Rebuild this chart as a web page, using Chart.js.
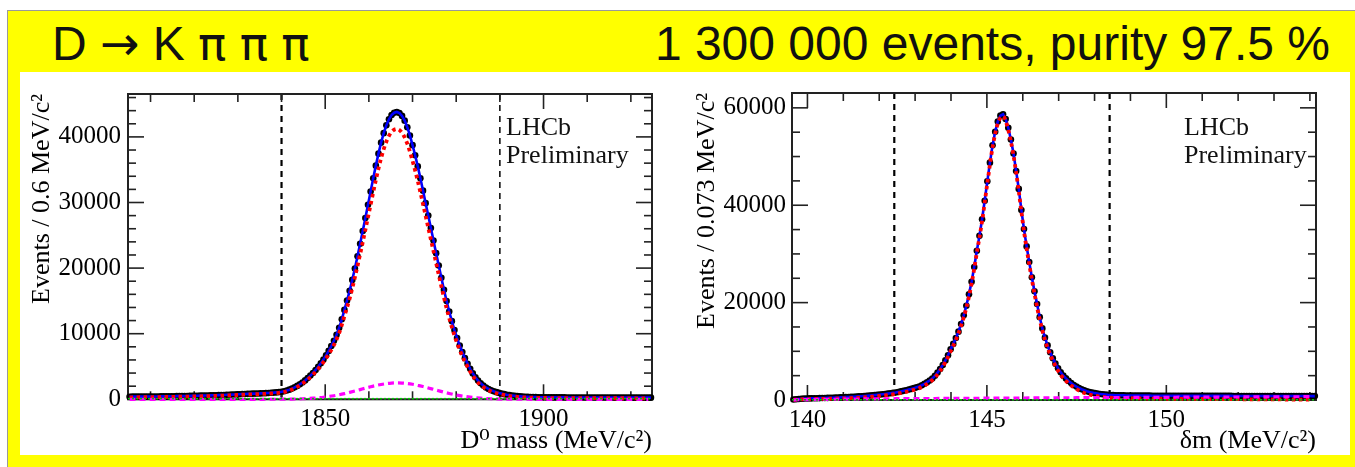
<!DOCTYPE html>
<html><head><meta charset="utf-8">
<script src="https://cdn.jsdelivr.net/npm/chart.js@4.4.1/dist/chart.umd.min.js"></script>
<style>
html,body{margin:0;padding:0;background:#fff;}
body{width:1355px;height:467px;position:relative;overflow:hidden;}
#band{position:absolute;left:7px;top:10px;width:1348px;height:457px;background:#ffff00;border-left:1px solid #9a9a9a;border-top:1px solid #9a9a9a;box-sizing:border-box;}
#panel{position:absolute;left:20px;top:72px;width:1330px;height:383px;background:#fff;}
.ttl{position:absolute;top:20px;font-family:'Liberation Sans',Arial,sans-serif;font-size:48px;line-height:48px;color:#111;white-space:pre;}
.sym{font-family:'DejaVu Sans',sans-serif;font-size:47px;}
#t1{left:52px;}
#t2{right:25px;}
.lhcb{position:absolute;top:113px;font-family:'Liberation Serif','Times New Roman',serif;font-size:26px;line-height:28px;color:#111;}
canvas{position:absolute;}
</style></head>
<body>
<div id="band"></div>
<div id="panel"></div>
<div class="ttl" id="t1">D <span class="sym">→</span> K <span class="sym">π</span> <span class="sym">π</span> <span class="sym">π</span></div>
<div class="ttl" id="t2">1 300 000 events, purity 97.5 %</div>
<canvas id="cL" width="650" height="383" style="left:20px;top:72px;width:650px;height:383px"></canvas>
<canvas id="cR" width="670" height="383" style="left:680px;top:72px;width:670px;height:383px"></canvas>
<div class="lhcb" style="left:506px">LHCb<br>Preliminary</div>
<div class="lhcb" style="left:1184px">LHCb<br>Preliminary</div>
<script>
// ================= Left panel: D0 mass =================
const massBinStartL = 1805.2;   // first bin centre, MeV/c2
const massBinWidthL = 0.6;      // bin width, MeV/c2
const eventsL = [
 400,402,405,408,410,412,415,418,420,425,
 430,435,440,445,450,457,465,472,480,487,
 495,502,510,517,525,535,545,555,565,575,
 585,597,610,622,635,650,665,682,700,720,
 740,760,780,798,815,830,845,858,870,885,
 900,920,940,963,990,1020,1055,1095,1150,1235,
 1340,1470,1630,1820,2040,2290,2570,2880,3230,3610,
 4020,4470,4960,5490,6070,6700,7380,8120,8930,9840,
 10900,12200,13630,15060,16530,18200,19950,21800,23710,25660,
 27640,29660,31680,33680,35620,37450,39120,40570,41760,42680,
 43320,43690,43800,43640,43200,42480,41480,40220,38740,37200,
 35500,33700,31810,29900,28000,26100,24200,22280,20400,18520,
 16690,14990,13380,11910,10550,9330,8200,7200,6270,5430,
 4650,3950,3350,2850,2440,2100,1810,1580,1390,1230,
 1090,975,875,785,705,635,575,522,477,440,
 410,388,370,354,340,330,320,310,300,297,
 295,293,292,290,289,287,286,284,283,281,
 280,278,277,275,274,272,271,269,268,267,
 266,265,264,263,262,261,260,259,258,257,
 256,255,254,254,253,252,252,251,251,250
];
const curveStartL = 1805.2;     // fit-component grid start
const curveStepL = 1.2;         // fit-component grid step
const signalL = [
 300,305,310,315,320,330,340,350,365,380,
 395,410,425,445,465,485,510,535,565,600,
 640,680,715,745,770,800,835,885,945,1035,
 1215,1495,1885,2390,3010,3755,4630,5655,6860,8285,
 10105,12665,15375,18585,22130,25840,29670,33420,36755,39270,
 40750,41200,40620,38975,36355,33270,29770,26165,22585,19000,
 15500,12385,9730,7535,5735,4220,3005,2165,1585,1205,
 930,735,580,460,365,305,265,240,220,200,
 195,192,189,186,183,180,177,174,171,168,
 166,164,162,160,158,156,154,153,152,151
];
const peakingBkgL = [
 0,0,0,0,0,0,0,0,0,0,
 0,0,0,0,0,0,0,0,0,0,
 0,0,0,0,0,2,4,6,10,15,
 24,37,56,82,118,167,232,315,418,543,
 693,864,1056,1263,1480,1698,1909,2100,2263,2389,
 2470,2500,2478,2406,2287,2129,1942,1734,1516,1299,
 1089,894,720,567,437,330,244,177,126,87,
 59,40,26,17,10,6,4,2,1,0,
 0,0,0,0,0,0,0,0,0,0,
 0,0,0,0,0,0,0,0,0,0
];
const combBkgXL = [1804.84, 1924.84];
const combBkgL = [100, 100];
const massRangeL = [1804.84, 1924.84];
const massTicksL = [1850, 1900];
const countTicksL = [0, 10000, 20000, 30000, 40000];
const countMaxL = 46540;
const massCutsL = [1840, 1890];

// ================= Right panel: delta m =================
const dmBinStartR = 139.61;
const dmBinWidthR = 0.073;
const eventsR = [
 100,165,215,255,285,308,326,342,357,372,
 387,402,418,435,452,470,490,510,532,556,
 582,610,640,672,705,740,778,818,860,905,
 955,1005,1060,1115,1177,1243,1312,1385,1462,1549,
 1654,1765,1882,2006,2139,2281,2432,2594,2766,3030,
 3328,3655,4013,4407,4966,5624,6359,7187,8132,9198,
 10404,11521,12718,14040,15610,17390,19350,21710,24290,27320,
 30640,33710,37130,40910,44910,48750,52300,55090,57190,58400,
 58700,57700,55900,53500,50640,47030,43350,39020,35100,31550,
 28340,25210,22340,19720,17020,14700,12800,11210,9820,8560,
 7470,6510,5680,5020,4440,3920,3470,3070,2750,2460,
 2210,1990,1800,1640,1510,1405,1320,1245,1180,1125,
 1075,1040,1010,985,965,950,944,938,932,926,
 920,915,910,905,900,896,892,888,884,880,
 877,874,871,868,866,864,862,860,858,856,
 854,853,852,851,850,849,848,847,846,845,
 844,843,842,841,840,839,838,837,836,835,
 834,833,832,831,830,829,828,827,826,825,
 824,823,822,821,820,819,818,817,816,815,
 814,813,812,811,810,809,808,807,806,805
];
const curveStartR = 139.61;
const curveStepR = 0.146;
const signalR = [
 30,115,163,184,201,218,236,258,284,314,
 348,397,453,518,591,677,773,882,1010,1153,
 1337,1558,1808,2094,2421,2978,3657,4604,5991,7758,
 10024,12333,15219,18953,23887,30231,36715,44490,51874,56758,
 58262,55456,50190,42895,34639,27873,21867,16541,12315,9329,
 6974,5178,3932,2956,2230,1684,1269,973,778,633,
 524,455,405,380,363,347,331,315,302,288,
 276,264,253,244,236,227,221,214,208,202,
 195,189,183,176,170,163,157,151,144,138,
 132,125,119,113,106,100,94,88,82,76
];
const bkgR = [
 20,50,72,92,106,119,132,144,156,168,
 184,193,202,210,219,228,237,245,252,259,
 267,274,281,288,295,300,306,312,318,324,
 330,335,341,347,353,359,365,370,376,382,
 388,394,400,405,411,417,423,429,435,441,
 446,452,458,464,470,476,481,487,492,497,
 501,505,510,514,519,523,529,535,540,546,
 551,557,563,568,572,577,581,586,590,594,
 599,603,607,612,616,621,625,629,634,638,
 642,647,651,655,660,664,668,672,676,680
];
const combBkgXR = [139.57, 154.17];
const combBkgR = [50, 50];
const dmRangeR = [139.57, 154.17];
const dmTicksR = [140, 145, 150];
const countTicksR = [0, 20000, 40000, 60000];
const countMaxR = 63050;
const dmCutsR = [142.42, 148.42];

// ================= drawing =================
const SERIF = "'Liberation Serif','Times New Roman','DejaVu Serif',serif";
Chart.defaults.font.family = SERIF;
Chart.defaults.color = '#000';

const grid = (start, step, ys) => ys.map((y, i) => ({x: +(start + i * step).toFixed(4), y}));
const pairs = (xs, ys) => xs.map((x, i) => ({x, y: ys[i]}));

const rootFrame = {
  id: 'rootFrame',
  beforeDatasetsDraw(chart, args, o) {
    const {ctx, chartArea: a, scales: {x, y}} = chart;
    const seg = (x1, y1, x2, y2) => { ctx.beginPath(); ctx.moveTo(x1, y1); ctx.lineTo(x2, y2); ctx.stroke(); };
    ctx.save();
    ctx.strokeStyle = '#000';
    ctx.setLineDash([6, 5]);
    o.cuts.forEach((v, k) => {
      const px = x.getPixelForValue(v);
      ctx.lineWidth = o.cutWidths[k];
      seg(px, a.top, px, a.bottom);
    });
    ctx.setLineDash([]);
    ctx.strokeStyle = '#222';
    ctx.lineWidth = 1.6;
    const x0 = Math.ceil(x.min / o.xMinorStep);
    for (let k = x0; k * o.xMinorStep <= x.max + 1e-9; k++) {
      const v = +(k * o.xMinorStep).toFixed(4);
      const len = o.xMajor.includes(v) ? 15 : 8;
      const px = x.getPixelForValue(v);
      seg(px, a.bottom, px, a.bottom - len);
      seg(px, a.top, px, a.top + len);
    }
    for (let k = 0; k * o.yMinorStep <= y.max; k++) {
      const v = k * o.yMinorStep;
      const len = o.yMajor.includes(v) ? 16 : 8;
      const py = y.getPixelForValue(v);
      seg(a.left, py, a.left + len, py);
      seg(a.right, py, a.right - len, py);
    }
    ctx.lineWidth = 2;
    ctx.strokeRect(a.left, a.top, a.width, a.height);
    ctx.restore();
  }
};

function makeChart(id, d, s) {
  return new Chart(document.getElementById(id), {
    type: 'scatter',
    data: {datasets: [
      {label: 'Data', data: d.data, showLine: false, pointRadius: 3.3, pointHoverRadius: 0,
       pointBackgroundColor: '#000', pointBorderWidth: 0, order: 5, clip: 4},
      {label: 'Total fit', data: d.data, showLine: true, borderColor: '#0000ff', borderWidth: 2.6,
       pointRadius: 0, order: 4, clip: 3},
      {label: 'Signal', data: d.signal, showLine: true, borderColor: '#ff0000', borderWidth: 3.8,
       borderDash: [3.5, 3.5], pointRadius: 0, order: 3, clip: 3, cubicInterpolationMode: 'monotone'},
      {label: 'Background', data: d.bkg, showLine: true, borderColor: '#ff00ff', borderWidth: 3.2,
       borderDash: [6, 4], pointRadius: 0, order: 2, clip: 3, cubicInterpolationMode: 'monotone'},
      {label: 'Combinatorial', data: d.comb, showLine: true, borderColor: '#00cc00', borderWidth: 1.5,
       borderDash: [2, 2], pointRadius: 0, order: 1, clip: 3}
    ]},
    options: {
      animation: false, responsive: false, devicePixelRatio: 1, events: [],
      layout: {padding: {left: 0, top: 18, right: s.padRight, bottom: 0}},
      plugins: {legend: {display: false}, tooltip: {enabled: false},
        rootFrame: {cuts: d.cuts, cutWidths: s.cutWidths, xMinorStep: s.xMinorStep, yMinorStep: s.yMinorStep,
                    xMajor: d.xTicks, yMajor: d.yTicks}},
      scales: {
        x: {type: 'linear', min: d.xRange[0], max: d.xRange[1],
          afterBuildTicks: sc => { sc.ticks = d.xTicks.map(v => ({value: v})); },
          afterFit: sc => { sc.height = s.xAxisH; },
          grid: {display: false, drawTicks: false}, border: {display: false},
          ticks: {padding: 5, maxRotation: 0, autoSkip: false, font: {size: 25}, color: '#000', callback: v => String(v)},
          title: {display: true, text: d.xTitle, align: 'end', color: '#000',
                  font: {size: 26, lineHeight: 1.1}, padding: {top: 0, bottom: 0}}},
        y: {type: 'linear', min: 0, max: d.yMax,
          afterBuildTicks: sc => { sc.ticks = d.yTicks.map(v => ({value: v})); },
          afterFit: sc => { sc.width = s.yAxisW; },
          grid: {display: false, drawTicks: false}, border: {display: false},
          ticks: {padding: s.yTickPad, font: {size: 25}, color: '#000', callback: v => String(v)},
          title: {display: true, text: d.yTitle, align: 'end', color: '#000',
                  font: {size: 26, lineHeight: 1.1}, padding: {top: s.yTitlePad, bottom: 0}}}
      }
    },
    plugins: [rootFrame]
  });
}

makeChart('cL', {
  data: grid(massBinStartL, massBinWidthL, eventsL),
  signal: grid(curveStartL, curveStepL, signalL),
  bkg: grid(curveStartL, curveStepL, peakingBkgL),
  comb: pairs(combBkgXL, combBkgL),
  cuts: massCutsL, xRange: massRangeL, xTicks: massTicksL, yTicks: countTicksL, yMax: countMaxL,
  xTitle: 'D⁰ mass (MeV/c²)', yTitle: 'Events / 0.6 MeV/c²'
}, {padRight: 18, xAxisH: 55.7, yAxisW: 108, yTickPad: 7, yTitlePad: 8, xMinorStep: 10, yMinorStep: 2000, cutWidths: [2.2, 1.5]});

makeChart('cR', {
  data: grid(dmBinStartR, dmBinWidthR, eventsR),
  signal: grid(curveStartR, curveStepR, signalR),
  bkg: grid(curveStartR, curveStepR, bkgR),
  comb: pairs(combBkgXR, combBkgR),
  cuts: dmCutsR, xRange: dmRangeR, xTicks: dmTicksR, yTicks: countTicksR, yMax: countMaxR,
  xTitle: 'δm (MeV/c²)', yTitle: 'Events / 0.073 MeV/c²'
}, {padRight: 34, xAxisH: 55, yAxisW: 112, yTickPad: 6, yTitlePad: 12.7, xMinorStep: 1, yMinorStep: 5000, cutWidths: [2.2, 2.2]});
</script>
</body></html>
